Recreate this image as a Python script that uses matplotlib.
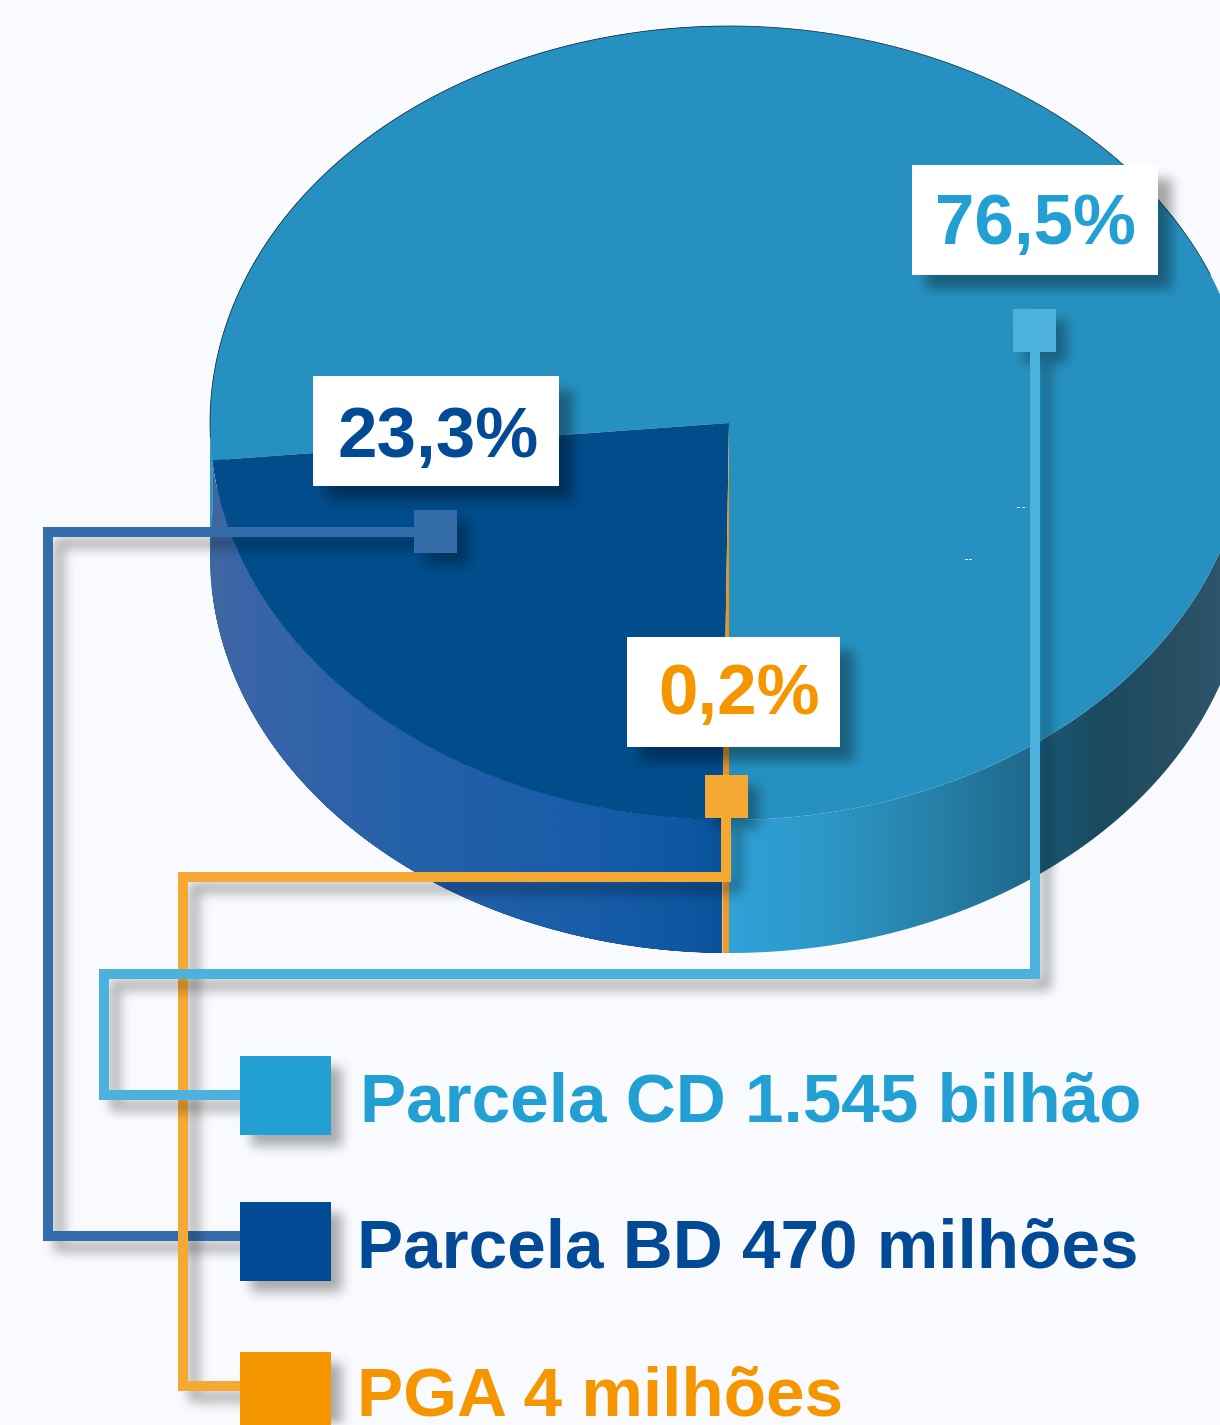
import numpy as np
import matplotlib
matplotlib.use("Agg")
import matplotlib.pyplot as plt
from matplotlib.patches import Polygon, Rectangle
from matplotlib.colors import LinearSegmentedColormap

plt.rcParams['font.family'] = ['Liberation Sans', 'DejaVu Sans']

# ---- data
categories = ["Parcela CD", "Parcela BD", "PGA"]
shares = [76.5, 23.3, 0.2]
share_labels = ["76,5%", "23,3%", "0,2%"]
legend_labels = ["Parcela CD 1.545 bilhão", "Parcela BD 470 milhões", "PGA 4 milhões"]

# ---- styling
W, H = 1220, 1425
BG = "#f9fafd"
top_colors = ["#2691c0", "#014c8b", "#e8941f"]
text_colors = ["#22a0d4", "#034a96", "#f59500"]
line_colors = ["#4cb1dc", "#356daa", "#f5a832"]
CX, CY, RX, RY, DEPTH = 729, 423, 519, 397, 133

fig = plt.figure(figsize=(W / 100, H / 100), dpi=100, facecolor=BG)

# pie axes: data units = pie radius, mapped so the ellipse lands in place
ax = fig.add_axes([0, 0, 1, 1])
ax.axis("off")
wedges, _ = ax.pie(shares, colors=top_colors, startangle=270, counterclock=True,
                   radius=1, wedgeprops=dict(linewidth=0), normalize=True)
for w in wedges:
    w.set_zorder(5)

xlim = (-CX / RX, (W - CX) / RX)
ylim = ((CY - H) / RY, CY / RY)
d = DEPTH / RY

bounds = 270 + np.cumsum([0] + shares) / sum(shares) * 360


def wall(a0, a1):
    t = np.radians(np.linspace(a0, a1, 200))
    x, y = np.cos(t), np.sin(t)
    return np.vstack([np.c_[x, y], np.c_[x, y - d][::-1]])


def gradient_wall(a0, a1, stops):
    poly = Polygon(wall(a0, a1), closed=True, transform=ax.transData, fc="none", ec="none")
    ax.add_patch(poly)
    pos = [(p - stops[0][0]) / (stops[-1][0] - stops[0][0]) for p, _ in stops]
    cmap = LinearSegmentedColormap.from_list("g", list(zip(pos, [c for _, c in stops])))
    g = np.linspace(0, 1, 512).reshape(1, -1)
    x0, x1 = (stops[0][0] - CX) / RX, (stops[-1][0] - CX) / RX
    im = ax.imshow(g, cmap=cmap, aspect="auto", extent=(x0, x1, -1.4 - d, 1.0), zorder=2, interpolation="bilinear")
    im.set_clip_path(poly)


# BD side wall (left), CD side wall (right), PGA seam
gradient_wall(bounds[1] - 360, bounds[2], [(210, "#40689f"), (240, "#3a65a8"), (400, "#2561a8"),
                                           (600, "#185ca8"), (680, "#0f57a2"), (722, "#0a539c")])
gradient_wall(bounds[0], 360, [(726, "#2fa2d8"), (820, "#2c98c8"), (900, "#2988b2"), (1000, "#217195"),
                               (1030, "#1f6789"), (1060, "#1a556f"), (1100, "#1b4a5f"), (1180, "#294f63"),
                               (1250, "#2f5a72")])
ax.add_patch(Polygon(wall(180, bounds[1] - 360), closed=True, fc="#2c98c8", ec="none", zorder=1.5))
ax.add_patch(Polygon(wall(bounds[2], bounds[3]), closed=True, fc="#ec9a2c", ec="none", zorder=3))

# thin dark rim on the upper edge
t = np.radians(np.linspace(22, 182, 600))
ax.plot(np.cos(t), np.sin(t), color="#12303f", lw=0.55, zorder=6)

ax.set_aspect("auto")
ax.set_xlim(*xlim)
ax.set_ylim(*ylim)

# overlay in pixel coordinates for callouts, legend and shadows
ov = fig.add_axes([0, 0, 1, 1], facecolor="none")
ov.axis("off")
ov.set_xlim(0, W)
ov.set_ylim(H, 0)


def blur(a, r):
    for axis in (0, 1):
        for _ in range(3):
            c = np.cumsum(np.insert(a, 0, 0, axis=axis), axis=axis)
            n = a.shape[axis]
            lo = np.clip(np.arange(n) - r, 0, n)
            hi = np.clip(np.arange(n) + r + 1, 0, n)
            a = (np.take(c, hi, axis=axis) - np.take(c, lo, axis=axis)) / (2 * r + 1)
    return a


z = [10]


def shadow(rects, off=(11, 11), r=5, alpha=0.32):
    m = np.zeros((H, W))
    for x0, y0, x1, y1 in rects:
        m[max(y0 + off[1], 0):max(y1 + off[1], 0), max(x0 + off[0], 0):max(x1 + off[0], 0)] = 1
    m = blur(m, r)
    rgba = np.zeros((H, W, 4))
    rgba[..., 3] = m * alpha
    ov.imshow(rgba, extent=(0, W, H, 0), aspect="auto", zorder=z[0], interpolation="bilinear")
    z[0] += 1


def rect(x0, y0, x1, y1, color):
    ov.add_patch(Rectangle((x0, y0), x1 - x0, y1 - y0, fc=color, ec="none", zorder=z[0]))


def group(path, square, legend_sq, color, legend_color):
    hw = 5
    segs = []
    for (xa, ya), (xb, yb) in zip(path[:-1], path[1:]):
        segs.append((min(xa, xb) - hw, min(ya, yb) - hw, max(xa, xb) + hw, max(ya, yb) + hw))
    shadow(segs + [square, legend_sq])
    for s in segs:
        rect(*s, color)
    rect(*square, color)
    rect(*legend_sq, legend_color)
    z[0] += 1


# order: BD, PGA, CD
group([(414, 532), (48, 532), (48, 1236), (240, 1236)], (414, 510, 457, 553), (240, 1202, 331, 1281),
      line_colors[1], text_colors[1])
group([(726, 818), (726, 877), (183, 877), (183, 1386), (240, 1386)], (705, 775, 748, 818), (240, 1352, 331, 1435),
      line_colors[2], text_colors[2])
group([(1035, 352), (1035, 974), (104, 974), (104, 1095), (240, 1095)], (1013, 309, 1056, 352), (240, 1056, 331, 1135),
      line_colors[0], text_colors[0])

# tiny light specks on the top face
for sx, sy in [(1017, 507), (1022, 507), (965, 559), (969, 559)]:
    ov.add_patch(Rectangle((sx, sy), 3, 1, fc="#dff1f9", ec="none", zorder=9))

# value boxes
boxes = [(912, 165, 1158, 275), (313, 376, 559, 486), (627, 637, 840, 747)]
label_xy = [(935, 244), (337, 457), (658, 714)]
for b, (tx, ty), lab, col in zip(boxes, label_xy, share_labels, text_colors):
    shadow([b], off=(14, 14), r=5, alpha=0.34)
    rect(*b, "white")
    ov.text(tx, ty, lab, color=col, fontsize=51, fontweight="bold", va="baseline", ha="left", zorder=z[0] + 1)
    z[0] += 2

# legend text
legend_xy = [(360, 1121), (357, 1268), (357, 1416)]
for (tx, ty), lab, col in zip(legend_xy, legend_labels, text_colors):
    ov.text(tx, ty, lab, color=col, fontsize=49.9, fontweight="bold", va="baseline", ha="left", zorder=z[0])

ov.set_xlim(0, W)
ov.set_ylim(H, 0)
fig.savefig("out.png", dpi=100, facecolor=BG)
